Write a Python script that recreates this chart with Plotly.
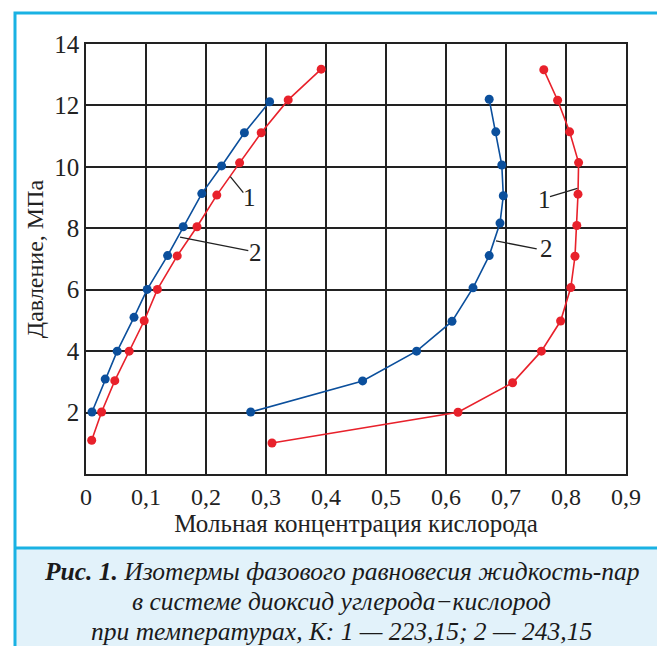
import plotly.graph_objects as go

# ---- data ----
# curve 1 (T = 223.15 K), red
red_liquid_x = [0.0095, 0.026, 0.048, 0.072, 0.097, 0.119, 0.152, 0.185, 0.218, 0.256, 0.292, 0.337, 0.392]
red_liquid_p = [1.10, 2.02, 3.04, 4.00, 4.99, 6.01, 7.10, 8.05, 9.08, 10.13, 11.11, 12.18, 13.18]
red_vapor_x = [0.310, 0.620, 0.711, 0.759, 0.791, 0.808, 0.815, 0.818, 0.820, 0.821, 0.806, 0.786, 0.763]
red_vapor_p = [1.01, 2.01, 2.97, 4.00, 4.98, 6.07, 7.09, 8.09, 9.11, 10.14, 11.14, 12.17, 13.16]
# curve 2 (T = 243.15 K), blue
blue_liquid_x = [0.010, 0.032, 0.052, 0.080, 0.102, 0.136, 0.162, 0.193, 0.226, 0.264, 0.306]
blue_liquid_p = [2.02, 3.09, 4.00, 5.10, 6.01, 7.11, 8.05, 9.13, 10.03, 11.11, 12.12]
blue_vapor_x = [0.2745, 0.461, 0.551, 0.610, 0.645, 0.672, 0.690, 0.6955, 0.693, 0.683, 0.672]
blue_vapor_p = [2.02, 3.03, 4.00, 4.97, 6.06, 7.11, 8.17, 9.06, 10.06, 11.14, 12.20]

x_tick_vals = [0, 0.1, 0.2, 0.3, 0.4, 0.5, 0.6, 0.7, 0.8, 0.9]
x_tick_text = ["0", "0,1", "0,2", "0,3", "0,4", "0,5", "0,6", "0,7", "0,8", "0,9"]
y_tick_vals = [2, 4, 6, 8, 10, 12, 14]
y_tick_text = ["2", "4", "6", "8", "10", "12", "14"]

x_title = "Мольная концентрация кислорода"
y_title = "Давление, МПа"
caption_lines = [
    "<b>Рис. 1.</b> Изотермы фазового равновесия жидкость-пар",
    "в системе диоксид углерода\u2212кислород",
    "при температурах, К: 1 \u2014 223,15; 2 \u2014 243,15",
]

# curve label leaders: (tip x, tip p, end x, end p, text x, text p, label)
leaders = [
    (0.2405, 9.68, 0.2622, 9.16, 0.2733, 8.99, "1"),
    (0.1567, 7.71, 0.2705, 7.27, 0.2833, 7.20, "2"),
    (0.8190, 9.30, 0.7733, 9.03, 0.7640, 8.95, "1"),
    (0.6833, 7.59, 0.7512, 7.33, 0.7667, 7.33, "2"),
]

RED = "#e8212b"
BLUE = "#0b4f9c"
CYAN = "#1ab2e3"
SERIF = "Liberation Serif"

# the page body has an 8px margin, so the figure is drawn 8px in from the corner
OFF = 8
W, H = 665 - OFF, 646 - OFF
L, R, T, B = 86 - OFF, 39 - OFF, 44 - OFF, 172 - OFF + OFF  # plot area 86..626 x 44..474 in page pixels
B = 646 - 474  # bottom margin measured from page bottom (figure bottom = page bottom)


def px(xp):
    return (xp - 86) / 540.0


def py(yp):
    return (474 - yp) / 430.0


fig = go.Figure()
for xs, ps, col in [
    (blue_liquid_x, blue_liquid_p, BLUE),
    (blue_vapor_x, blue_vapor_p, BLUE),
    (red_liquid_x, red_liquid_p, RED),
    (red_vapor_x, red_vapor_p, RED),
]:
    fig.add_trace(go.Scatter(
        x=xs, y=ps, mode="lines+markers",
        line=dict(color=col, width=1.6),
        marker=dict(color=col, size=9),
        showlegend=False, cliponaxis=False,
    ))

shapes = []
annotations = []
for tx, tp, ex, ep, lx, lp, lab in leaders:
    shapes.append(dict(type="line", xref="x", yref="y", x0=tx, y0=tp, x1=ex, y1=ep,
                       line=dict(color="#222", width=1.3)))
    annotations.append(dict(xref="x", yref="y", x=lx, y=lp, text=lab, showarrow=False,
                            font=dict(family=SERIF, size=25, color="#222")))

# caption panel and frame
shapes.insert(0, dict(type="rect", xref="paper", yref="paper", layer="below",
                      x0=px(14), x1=px(663), y0=py(548), y1=py(650),
                      fillcolor="#e2f2fa", line=dict(width=0)))
shapes.append(dict(type="rect", xref="paper", yref="paper",
                   x0=px(15), x1=px(663), y0=py(650), y1=py(13),
                   line=dict(color=CYAN, width=3)))
shapes.append(dict(type="line", xref="paper", yref="paper",
                   x0=px(15), x1=px(663), y0=py(548), y1=py(548),
                   line=dict(color=CYAN, width=3)))

for i, line in enumerate(caption_lines):
    annotations.append(dict(xref="paper", yref="paper", x=px(341), y=py(571 + 30 * i),
                            text="<i>" + line + "</i>", showarrow=False,
                            xanchor="center", yanchor="middle",
                            font=dict(family=SERIF, size=25.5, color="#1a1a1a")))

fig.update_layout(
    width=W, height=H,
    margin=dict(l=86 - OFF, r=665 - 626, t=44 - OFF, b=646 - 474, pad=0),
    paper_bgcolor="white", plot_bgcolor="white",
    shapes=shapes, annotations=annotations,
    xaxis=dict(range=[0, 0.9], tickvals=x_tick_vals, ticktext=x_tick_text,
               showgrid=True, gridcolor="#222", gridwidth=1.6,
               showline=True, linecolor="#222", linewidth=1.6, mirror=True,
               zeroline=False, ticks="",
               tickfont=dict(family=SERIF, size=24, color="#222"),
               title=dict(text=x_title, standoff=2,
                          font=dict(family=SERIF, size=25, color="#222"))),
    yaxis=dict(range=[0, 14], tickvals=y_tick_vals, ticktext=y_tick_text,
               showgrid=True, gridcolor="#222", gridwidth=1.6,
               showline=True, linecolor="#222", linewidth=1.6, mirror=True,
               zeroline=False, ticks="",
               tickfont=dict(family=SERIF, size=25, color="#222"),
               title=dict(text=y_title, standoff=4,
                          font=dict(family=SERIF, size=24, color="#222"))),
)

fig.write_html("out.html")
